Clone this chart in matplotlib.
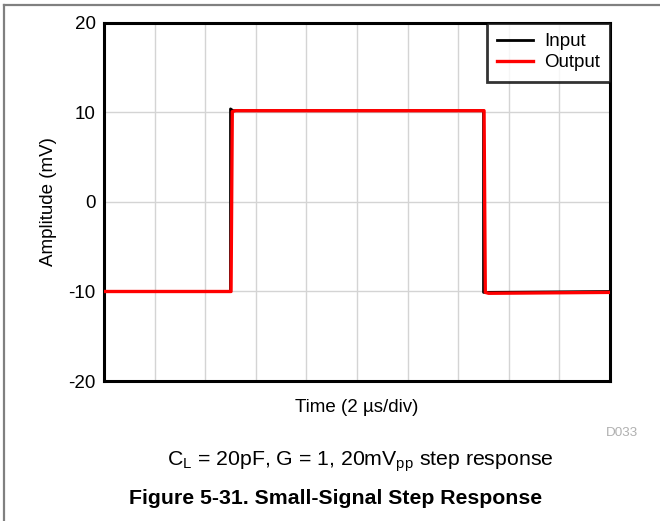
import matplotlib.pyplot as plt
from matplotlib.lines import Line2D

plt.rcParams['font.family'] = ['Liberation Sans', 'DejaVu Sans']
plt.rcParams['axes.unicode_minus'] = False

# Données (temps en µs, amplitude en mV)
time_in = [0, 5.0, 5.0, 5.1, 15.0, 15.0, 15.1, 20]
input_mv = [-10.0, -10.0, 10.4, 10.2, 10.2, -10.1, -10.1, -10.0]
time_out = [0, 5.02, 5.07, 5.2, 15.02, 15.07, 15.2, 20]
output_mv = [-10.0, -10.0, 10.1, 10.2, 10.2, -10.1, -10.2, -10.1]

x_grid = [0, 2, 4, 6, 8, 10, 12, 14, 16, 18, 20]
y_ticks = [-20, -10, 0, 10, 20]

fig = plt.figure(figsize=(6.6, 5.21), dpi=100)
ax = fig.add_axes([0.1576, 0.2687, 0.7667, 0.6872])

ax.plot(time_in, input_mv, color='black', lw=2.0, label='Input', zorder=3)
ax.plot(time_out, output_mv, color='#ff0000', lw=2.4, label='Output', zorder=4)

ax.set_xlim(0, 20)
ax.set_ylim(-20, 20)
ax.set_xticks(x_grid)
ax.set_xticklabels([])
ax.set_yticks(y_ticks)
ax.tick_params(axis='both', length=0, labelsize=13.5, pad=6)
ax.grid(True, color='#d4d4d4', lw=1.0)
for s in ax.spines.values():
    s.set_linewidth(2.2)
    s.set_color('black')

ax.set_xlabel('Time (2 µs/div)', fontsize=13.5, labelpad=7)
ax.set_ylabel('Amplitude (mV)', fontsize=13.5, labelpad=8)

leg = ax.legend(loc='upper right', fontsize=13.5, frameon=True, fancybox=False,
                borderaxespad=0.0, handlelength=1.9, labelspacing=0.2,
                borderpad=0.55, handletextpad=0.6)
leg.get_frame().set_edgecolor('black')
leg.get_frame().set_linewidth(2.0)

fig.text(622 / 660, 1 - 433 / 521, 'D033', color='#b0b0b0', fontsize=9.7,
         ha='center', va='center')
fig.text(360 / 660, 1 - 462 / 521,
         r'C$_\mathregular{L}$ = 20pF, G = 1, 20mV$_\mathregular{pp}$ step response',
         fontsize=15.3, ha='center', va='center')
fig.text(336 / 660, 1 - 499 / 521, 'Figure 5-31. Small-Signal Step Response',
         fontsize=15.3, fontweight='bold', ha='center', va='center')

# Cadre gris autour de la figure
fig.add_artist(Line2D([4 / 660, 1.0], [1 - 5 / 521, 1 - 5 / 521],
                      transform=fig.transFigure, color='#808080', lw=1.6))
fig.add_artist(Line2D([4 / 660, 4 / 660], [0.0, 1 - 5 / 521],
                      transform=fig.transFigure, color='#808080', lw=1.6))

plt.savefig('out.png', dpi=100)
plt.close()
